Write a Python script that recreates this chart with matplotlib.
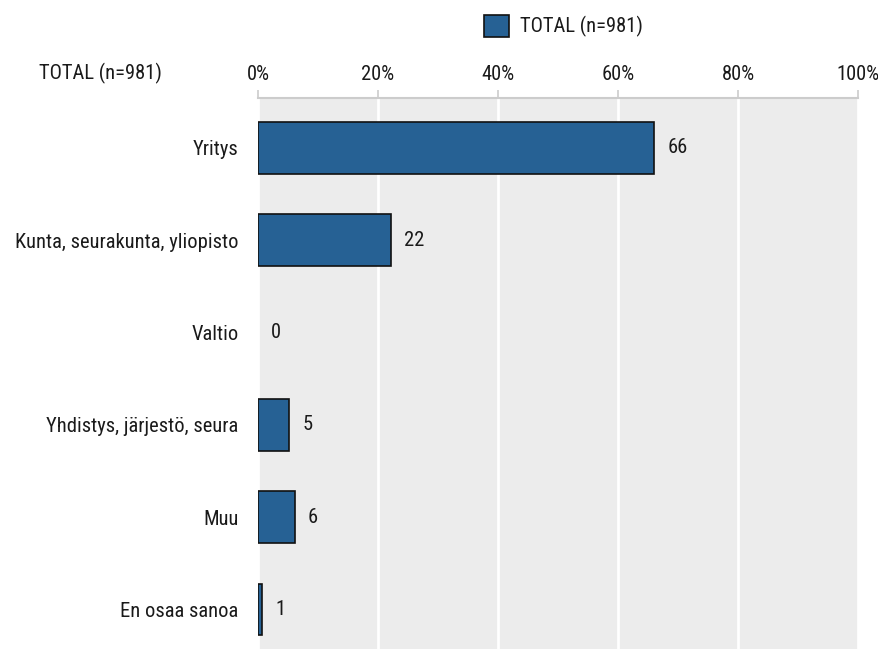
import matplotlib
matplotlib.use("Agg")
import matplotlib.pyplot as plt
from matplotlib import font_manager
from matplotlib.patches import Patch

categories = ["Yritys", "Kunta, seurakunta, yliopisto", "Valtio",
              "Yhdistys, järjestö, seura", "Muu", "En osaa sanoa"]
values = [66.0, 22.2, 0.0, 5.2, 6.1, 0.7]
labels = ["66", "22", "0", "5", "6", "1"]
ticks = [0, 20, 40, 60, 80, 100]
series_name = "TOTAL (n=981)"

names = {f.name for f in font_manager.fontManager.ttflist}
font = "DejaVu Sans"
for cand in ["Liberation Sans Narrow", "Roboto Condensed", "Open Sans Condensed", "DejaVu Sans"]:
    if cand in names:
        font = cand
        break
plt.rcParams["font.family"] = font
FS = 14.8
TXT = "#1a1a1a"

W, H = 879, 649
fig = plt.figure(figsize=(W / 100, H / 100), dpi=100)
ax = fig.add_axes([258 / W, 1 - 650 / H, 600 / W, 552 / H])
ax.set_facecolor("#ececec")

y = list(range(len(categories)))
widths = [1.2 if v > 0 else 0 for v in values]
ax.barh(y, values, height=0.56, color="#266194", edgecolor="#111111", linewidth=widths, zorder=3)
for yi, v, lab in zip(y, values, labels):
    ax.text(v + 2.2, yi, lab, va="center", ha="left", fontsize=FS, color=TXT)

ax.set_xlim(0, 100)
ax.set_ylim(5.44, -0.54)
ax.set_xticks(ticks)
ax.set_xticklabels(["%d%%" % t for t in ticks], fontsize=FS, color=TXT)
ax.xaxis.tick_top()
ax.tick_params(axis="x", direction="out", length=6, width=1.2, color="#cccccc", pad=4)
ax.set_yticks(y)
ax.set_yticklabels(categories, fontsize=FS, color=TXT)
ax.tick_params(axis="y", length=0, pad=14)
ax.grid(axis="x", color="white", linewidth=2, zorder=1)
for s in ["left", "right", "bottom"]:
    ax.spines[s].set_visible(False)
ax.spines["top"].set_color("#cccccc")
ax.spines["top"].set_linewidth(1.5)

fig.text(100 / W, 1 - 73 / H, series_name, ha="center", va="center", fontsize=FS, color=TXT)

handle = Patch(facecolor="#266194", edgecolor="#111111", linewidth=1.2)
fig.legend([handle], [series_name], loc="center", bbox_to_anchor=(563 / W, 1 - 26 / H),
           frameon=False, fontsize=FS, handlelength=1.25, handleheight=1.25, handletextpad=0.5,
           labelcolor=TXT)

fig.savefig("out.png", dpi=100)
